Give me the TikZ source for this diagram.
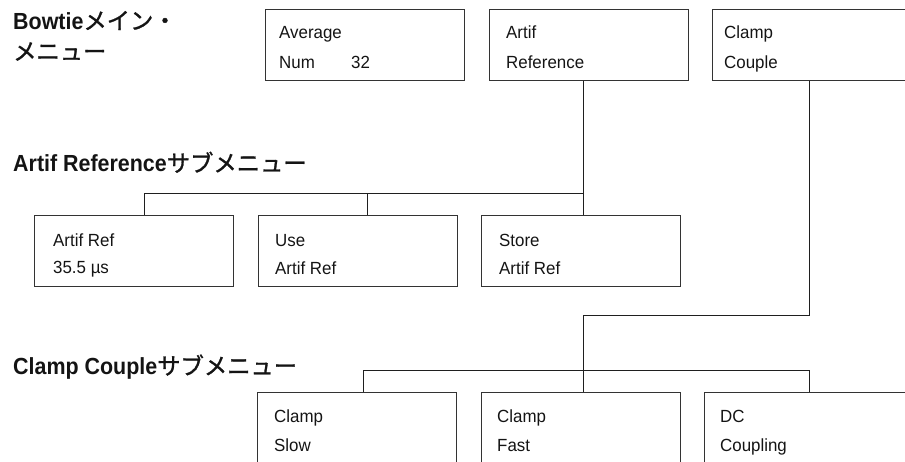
\documentclass[tikz,border=0pt]{standalone}
\usepackage{fontspec}
\setmainfont{Liberation Sans}[FakeStretch=0.96]
\newfontfamily\headfont{Liberation Sans}[FakeStretch=0.92]
\newfontfamily\jpfont{Noto Sans CJK JP}[FakeBold=1.2]
\begin{document}
\begin{tikzpicture}[x=1pt,y=-1pt,
  menubox/.style={draw=black!80, line width=1.2pt, rectangle, inner sep=0pt,
    anchor=north west, minimum width=199pt, minimum height=70.5pt},
  label/.style={anchor=base west, inner sep=0pt, text=black!92,
    font=\fontsize{17.6}{21}\selectfont},
  heading/.style={anchor=base west, inner sep=0pt, text=black!92,
    font=\fontsize{23.3}{28}\selectfont\headfont\bfseries},
  wire/.style={draw=black!88, line width=1pt}]
\useasboundingbox (0,0) rectangle (905,461);

% headings
\node[heading] (h1a) at (13,29.3) {Bowtie{\jpfont\mdseries メイン・}};
\node[heading] (h1b) at (13,60) {{\jpfont\mdseries メニュー}};
\node[heading] (h2) at (13,171.7) {Artif Reference{\jpfont\mdseries サブメニュー}};
\node[heading] (h3) at (13,374.5) {Clamp Couple{\jpfont\mdseries サブメニュー}};

% main menu
\node[menubox] (m1) at (265,9) {};
\node[menubox] (m2) at (489,9) {};
\node[menubox, minimum width=205pt] (m3) at (712,9) {};
\node[label] (m1a) at (279,38.5) {Average};
\node[label] (m1b) at (279,68) {\makebox[72pt][l]{Num}32};
\node[label] (m2a) at (506,38.5) {Artif};
\node[label] (m2b) at (506,68) {Reference};
\node[label] (m3a) at (724,38.5) {Clamp};
\node[label] (m3b) at (724,68) {Couple};

% Artif Reference submenu
\node[menubox] (r1) at (34,215) {};
\node[menubox] (r2) at (258,215) {};
\node[menubox] (r3) at (481,215) {};
\node[label] (r1a) at (53,246.5) {Artif Ref};
\node[label] (r1b) at (53,273) {35.5 µs};
\node[label] (r2a) at (275,246.5) {Use};
\node[label] (r2b) at (275,274) {Artif Ref};
\node[label] (r3a) at (499,246.5) {Store};
\node[label] (r3b) at (499,274) {Artif Ref};

% Clamp Couple submenu
\node[menubox, minimum height=73pt] (c1) at (257,392) {};
\node[menubox, minimum height=73pt] (c2) at (481,392) {};
\node[menubox, minimum height=73pt, minimum width=210pt] (c3) at (704,392) {};
\node[label] (c1a) at (274,422.5) {Clamp};
\node[label] (c1b) at (274,451.5) {Slow};
\node[label] (c2a) at (497,422.5) {Clamp};
\node[label] (c2b) at (497,451.5) {Fast};
\node[label] (c3a) at (720,422.5) {DC};
\node[label] (c3b) at (720,451.5) {Coupling};

% junction points
\coordinate (ja) at (583,193);
\coordinate (jb) at (367,193);
\coordinate (jc) at (144,193);
\coordinate (ka) at (809,315);
\coordinate (kb) at (583,315);
\coordinate (la) at (809,370);
\coordinate (lb) at (363,370);

% Artif Reference connectors
\draw[wire] (m2.south -| ja) -- (r3.north -| ja);
\draw[wire] (ja) -| (r1.north -| jc);
\draw[wire] (jb) -- (r2.north -| jb);

% Clamp Couple connectors
\draw[wire] (m3.south -| ka) -- (ka) -- (kb) -- (c2.north -| kb);
\draw[wire] (c1.north -| lb) |- (la) -- (c3.north -| la);
\end{tikzpicture}
\end{document}
